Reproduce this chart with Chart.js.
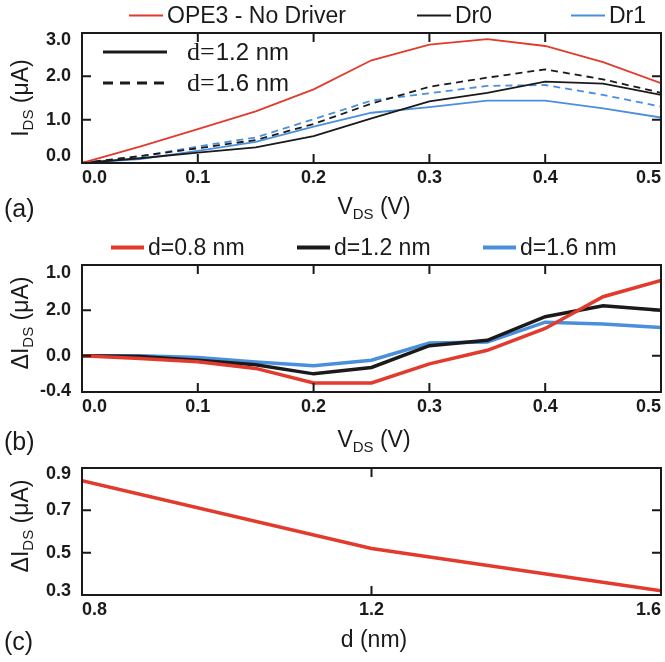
<!DOCTYPE html>
<html>
<head>
<meta charset="utf-8">
<script src="https://cdn.jsdelivr.net/npm/chart.js@4/dist/chart.umd.min.js"></script>
<style>
body { margin: 0; width: 665px; height: 662px; overflow: hidden; background: #fff; position: relative;
       font-family: 'Liberation Sans', Arial, sans-serif; color: #1a1a1a; }
.box { position: absolute; left: 0; width: 665px; }
.txt { position: absolute; font-size: 23px; line-height: 1; white-space: nowrap; transform: translate(-50%, -50%); }
.txt sub { font-size: 15px; vertical-align: -5px; }
.rot { transform: translate(-50%, -50%) rotate(-90deg); }
.panel { position: absolute; font-size: 25px; line-height: 1; transform: translateY(-50%); }
.leg { position: absolute; font-size: 23px; line-height: 1; white-space: nowrap; display: flex; align-items: center; transform: translateY(-50%); }
.leg i { display: inline-block; margin-right: 4px; }
</style>
</head>
<body>
<div class="box" style="top:0;height:201px"><canvas id="chartA"></canvas></div>
<div class="box" style="top:230px;height:200px"><canvas id="chartB"></canvas></div>
<div class="box" style="top:430px;height:203px"><canvas id="chartC"></canvas></div>

<div class="txt rot" style="left:22px;top:98px">I<sub>DS</sub> (μA)</div>
<div class="txt" style="left:374px;top:208px">V<sub>DS</sub> (V)</div>
<div class="panel" style="left:4px;top:208px">(a)</div>

<div class="txt rot" style="left:22px;top:323px">ΔI<sub>DS</sub> (μA)</div>
<div class="txt" style="left:374px;top:441px">V<sub>DS</sub> (V)</div>
<div class="panel" style="left:4px;top:441px">(b)</div>

<div class="txt rot" style="left:22px;top:526px">ΔI<sub>DS</sub> (μA)</div>
<div class="txt" style="left:374px;top:639px">d (nm)</div>
<div class="panel" style="left:4px;top:641px">(c)</div>

<script>
// ---- data ----
const vds = [0, 0.05, 0.1, 0.15, 0.2, 0.25, 0.3, 0.35, 0.4, 0.45, 0.5];

// panel (a): I_DS (uA)
const ope3   = [0, 0.38, 0.78, 1.19, 1.70, 2.37, 2.73, 2.86, 2.70, 2.33, 1.84];
const dr0d12 = [0, 0.11, 0.24, 0.36, 0.62, 1.03, 1.42, 1.62, 1.88, 1.83, 1.57];
const dr0d16 = [0, 0.16, 0.34, 0.53, 0.90, 1.37, 1.76, 1.97, 2.16, 1.93, 1.62];
const dr1d12 = [0, 0.09, 0.28, 0.49, 0.84, 1.16, 1.29, 1.44, 1.44, 1.26, 1.05];
const dr1d16 = [0, 0.15, 0.38, 0.59, 1.01, 1.44, 1.61, 1.78, 1.80, 1.57, 1.30];

// panel (b): delta I_DS (uA)
const dI08 = [0, -0.03, -0.066, -0.14, -0.30, -0.30, -0.09, 0.06, 0.30, 0.65, 0.83];
const dI12 = [0, -0.01, -0.05, -0.10, -0.20, -0.13, 0.11, 0.17, 0.43, 0.55, 0.50];
const dI16 = [0, 0, -0.02, -0.07, -0.11, -0.05, 0.14, 0.15, 0.37, 0.35, 0.31];

// panel (c): delta I_DS at V_DS = 0.5 V vs d
const dNm = [0.8, 1.2, 1.6];
const dIvsD = [0.84, 0.52, 0.32];

// ticks
const vTicks = [0, 0.1, 0.2, 0.3, 0.4, 0.5];
const vLabels = ['0.0', '0.1', '0.2', '0.3', '0.4', '0.5'];
const dTicks = [0.8, 1.2, 1.6];
const dLabels = ['0.8', '1.2', '1.6'];
const aYAt = [0.17, 1, 2, 2.84];
const aYLabels = ['0.0', '1.0', '2.0', '3.0'];
const bYAt = [-0.39, 0, 0.5, 0.91];
const bYLabels = ['-0.4', '0.0', '2.0', '1.0'];
const cYAt = [0.32, 0.5, 0.7, 0.87];
const cYLabels = ['0.3', '0.5', '0.7', '0.9'];

const legendA = ['OPE3 - No Driver', 'Dr0', 'Dr1'];
const legendB = ['d=0.8 nm', 'd=1.2 nm', 'd=1.6 nm'];

const RED = '#e23a2c', BLACK = '#1a1a1a', BLUE = '#4a8fdc';
const FONT = "'Liberation Sans', Arial, sans-serif";

// ---- html legends ----
function addLegend(names, colors, lefts, top, lineLen, lineW) {
    names.forEach((n, i) => {
        const el = document.createElement('div');
        el.className = 'leg';
        el.style.left = lefts[i] + 'px';
        el.style.top = top + 'px';
        el.innerHTML = '<i style="width:' + lineLen + 'px;height:' + lineW + 'px;background:' + colors[i] + '"></i>' + n;
        document.body.appendChild(el);
    });
}
addLegend(legendA, [RED, BLACK, BLUE], [129, 417, 571], 15, 34, 2);
addLegend(legendB, [RED, BLACK, BLUE], [111, 297, 483], 247, 33, 4);

// ---- frame with inward ticks ----
const framePlugin = {
    id: 'frame',
    afterDatasetsDraw(chart, args, opts) {
        const {ctx, chartArea: a, scales: {x, y}} = chart;
        ctx.save();
        ctx.strokeStyle = BLACK;
        ctx.lineWidth = 2;
        ctx.strokeRect(a.left, a.top, a.right - a.left, a.bottom - a.top);
        ctx.beginPath();
        opts.xMarks.forEach(v => {
            const p = x.getPixelForValue(v);
            ctx.moveTo(p, a.top); ctx.lineTo(p, a.top + 9);
            ctx.moveTo(p, a.bottom); ctx.lineTo(p, a.bottom - 9);
        });
        opts.yMarks.forEach(v => {
            const p = y.getPixelForValue(v);
            ctx.moveTo(a.left, p); ctx.lineTo(a.left + 9, p);
            ctx.moveTo(a.right, p); ctx.lineTo(a.right - 9, p);
        });
        ctx.stroke();
        ctx.restore();
    }
};

// ---- inner legend of panel (a): line style = spacing d ----
const styleKey = {
    id: 'styleKey',
    afterDatasetsDraw(chart) {
        const ctx = chart.ctx;
        const rows = [['1.2 nm', [], 52], ['1.6 nm', [10, 7], 83]];
        ctx.save();
        rows.forEach(r => {
            ctx.beginPath();
            ctx.strokeStyle = BLACK;
            ctx.lineWidth = 3;
            ctx.setLineDash(r[1]);
            ctx.moveTo(103, r[2]); ctx.lineTo(167, r[2]);
            ctx.stroke();
            ctx.setLineDash([]);
            ctx.fillStyle = BLACK;
            ctx.textBaseline = 'middle';
            ctx.font = "26px 'Liberation Serif', serif";
            ctx.fillText('d=', 187, r[2] + 1);
            const w = ctx.measureText('d=').width;
            ctx.font = "24px " + FONT;
            ctx.fillText(r[0], 187 + w + 1, r[2] + 1);
        });
        ctx.restore();
    }
};

function pts(xs, ys) {
    return xs.map((v, i) => ({x: v, y: ys[i]}));
}

function line(data, color, width, dash) {
    return {data: data, borderColor: color, backgroundColor: color, borderWidth: width,
            borderDash: dash || [], pointRadius: 0, tension: 0, fill: false};
}

function makeChart(id, datasets, sx, sy, padTop, marks, extra) {
    const tickFont = {family: FONT, size: 18, weight: 'bold'};
    return new Chart(document.getElementById(id), {
        type: 'line',
        data: {datasets: datasets},
        options: {
            responsive: true,
            maintainAspectRatio: false,
            animation: false,
            layout: {padding: {top: padTop, left: 30, right: 1, bottom: 0}},
            plugins: {legend: {display: false}, tooltip: {enabled: false}, frame: marks},
            scales: {
                x: {
                    type: 'linear', min: sx.min, max: sx.max,
                    afterBuildTicks: s => { s.ticks = sx.at.map(v => ({value: v})); },
                    afterFit: s => { s.height = 38; },
                    ticks: {align: 'inner', padding: 4, maxRotation: 0, autoSkip: false, color: BLACK,
                            font: tickFont, callback: (v, i) => sx.labels[i]},
                    grid: {display: false, drawTicks: false},
                    border: {display: false}
                },
                y: {
                    type: 'linear', min: sy.min, max: sy.max,
                    afterBuildTicks: s => { s.ticks = sy.at.map(v => ({value: v})); },
                    afterFit: s => { s.width = 52; },
                    ticks: {padding: 11, autoSkip: false, color: BLACK, font: tickFont,
                            callback: (v, i) => sy.labels[i]},
                    grid: {display: false, drawTicks: false},
                    border: {display: false}
                }
            }
        },
        plugins: [framePlugin].concat(extra || [])
    });
}

// panel (a)
makeChart('chartA', [
    line(pts(vds, ope3), RED, 1.8),
    line(pts(vds, dr0d12), BLACK, 1.8),
    line(pts(vds, dr0d16), BLACK, 1.8, [7, 5]),
    line(pts(vds, dr1d12), BLUE, 1.8),
    line(pts(vds, dr1d16), BLUE, 1.8, [7, 5])
], {min: 0, max: 0.5, at: vTicks, labels: vLabels},
   {min: 0, max: 3, at: aYAt, labels: aYLabels}, 33,
   {xMarks: [0.1, 0.2, 0.3, 0.4], yMarks: [1, 2]}, [styleKey]);

// panel (b)
makeChart('chartB', [
    line(pts(vds, dI08), RED, 3.5),
    line(pts(vds, dI12), BLACK, 3.5),
    line(pts(vds, dI16), BLUE, 3.5)
], {min: 0, max: 0.5, at: vTicks, labels: vLabels},
   {min: -0.4, max: 1.0, at: bYAt, labels: bYLabels}, 35,
   {xMarks: [0.1, 0.2, 0.3, 0.4], yMarks: [0, 0.5]});

// panel (c)
makeChart('chartC', [
    line(pts(dNm, dIvsD), RED, 3.5)
], {min: 0.8, max: 1.6, at: dTicks, labels: dLabels},
   {min: 0.3, max: 0.9, at: cYAt, labels: cYLabels}, 38,
   {xMarks: [1.2], yMarks: [0.5, 0.7]});
</script>
</body>
</html>
